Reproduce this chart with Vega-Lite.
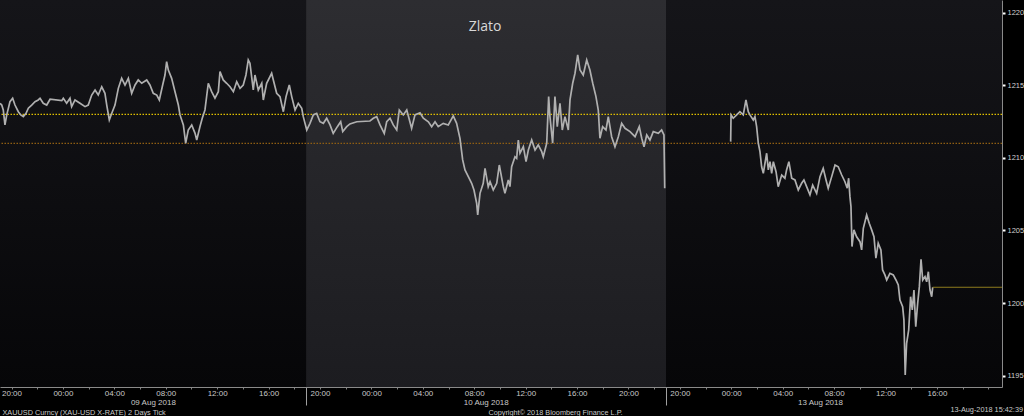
{
  "$schema": "https://vega.github.io/schema/vega-lite/v6.json",
  "width": 1002,
  "height": 387,
  "autosize": {"type": "none"},
  "padding": {"left": 0, "top": 0, "right": 22, "bottom": 29},
  "background": "#000000",
  "config": {"view": {"stroke": null}, "font": "Liberation Sans"},
  "title": {"text": "13-Aug-2018 15:42:39", "orient": "bottom", "anchor": "end", "frame": "group", "offset": -9, "dx": 21, "fontSize": 7.3, "fontWeight": "normal", "color": "#c8c8c8", "font": "Liberation Sans"},
  "resolve": {"scale": {"x": "shared"}, "axis": {"x": "independent"}},
  "datasets": {
    "bands": [
      {"kind": "dark", "t0": -0.895, "t1": 22.92},
      {"kind": "light", "t0": 22.92, "t1": 50.92},
      {"kind": "dark", "t0": 50.92, "t1": 77.06}
    ],
    "refs": [
      {"level": "upper", "p": 1213.0},
      {"level": "lower", "p": 1211.0}
    ],
    "last": [
      {"t": 71.67, "t2": 77.06, "p": 1201.09}
    ],
    "notes": [
      {"label": "Zlato", "t": 36.84, "p": 1219.02}
    ],
    "price": [
      {"t": -0.89, "p": 1213.76, "s": 1}, {"t": -0.76, "p": 1213.64, "s": 1}, {"t": -0.64, "p": 1213.30, "s": 1}, {"t": -0.51, "p": 1212.27, "s": 1},
      {"t": -0.37, "p": 1212.96, "s": 1}, {"t": -0.12, "p": 1213.87, "s": 1}, {"t": 0.09, "p": 1214.11, "s": 1}, {"t": 0.27, "p": 1213.64, "s": 1},
      {"t": 0.53, "p": 1213.18, "s": 1}, {"t": 0.72, "p": 1212.96, "s": 1}, {"t": 0.92, "p": 1212.84, "s": 1}, {"t": 1.13, "p": 1213.07, "s": 1},
      {"t": 1.31, "p": 1213.42, "s": 1}, {"t": 1.57, "p": 1213.64, "s": 1}, {"t": 1.83, "p": 1213.87, "s": 1}, {"t": 2.08, "p": 1213.99, "s": 1},
      {"t": 2.22, "p": 1214.11, "s": 1}, {"t": 2.47, "p": 1213.76, "s": 1}, {"t": 2.74, "p": 1213.64, "s": 1}, {"t": 3.00, "p": 1214.04, "s": 1},
      {"t": 3.91, "p": 1213.94, "s": 1}, {"t": 4.03, "p": 1214.11, "s": 1}, {"t": 4.29, "p": 1213.76, "s": 1}, {"t": 4.55, "p": 1214.11, "s": 1},
      {"t": 4.68, "p": 1213.53, "s": 1}, {"t": 4.94, "p": 1213.99, "s": 1}, {"t": 5.33, "p": 1213.76, "s": 1}, {"t": 5.72, "p": 1213.53, "s": 1},
      {"t": 5.97, "p": 1213.64, "s": 1}, {"t": 6.24, "p": 1214.33, "s": 1}, {"t": 6.50, "p": 1214.68, "s": 1}, {"t": 6.75, "p": 1214.33, "s": 1},
      {"t": 7.02, "p": 1214.90, "s": 1}, {"t": 7.27, "p": 1214.45, "s": 1}, {"t": 7.41, "p": 1213.64, "s": 1}, {"t": 7.61, "p": 1212.61, "s": 1},
      {"t": 7.80, "p": 1213.07, "s": 1}, {"t": 8.05, "p": 1213.64, "s": 1}, {"t": 8.31, "p": 1214.79, "s": 1}, {"t": 8.57, "p": 1215.48, "s": 1},
      {"t": 8.83, "p": 1215.02, "s": 1}, {"t": 9.09, "p": 1215.48, "s": 1}, {"t": 9.35, "p": 1214.45, "s": 1}, {"t": 9.61, "p": 1215.02, "s": 1},
      {"t": 9.86, "p": 1215.37, "s": 1}, {"t": 10.13, "p": 1215.14, "s": 1}, {"t": 10.52, "p": 1215.37, "s": 1}, {"t": 10.77, "p": 1215.02, "s": 1},
      {"t": 11.03, "p": 1214.45, "s": 1}, {"t": 11.30, "p": 1214.33, "s": 1}, {"t": 11.50, "p": 1213.99, "s": 1}, {"t": 11.76, "p": 1215.02, "s": 1},
      {"t": 11.94, "p": 1215.71, "s": 1}, {"t": 12.07, "p": 1216.63, "s": 1}, {"t": 12.20, "p": 1216.05, "s": 1}, {"t": 12.46, "p": 1215.48, "s": 1},
      {"t": 12.72, "p": 1214.56, "s": 1}, {"t": 12.98, "p": 1213.64, "s": 1}, {"t": 13.11, "p": 1212.96, "s": 1}, {"t": 13.37, "p": 1212.27, "s": 1},
      {"t": 13.55, "p": 1211.01, "s": 1}, {"t": 13.75, "p": 1211.92, "s": 1}, {"t": 14.02, "p": 1212.27, "s": 1}, {"t": 14.28, "p": 1211.69, "s": 1},
      {"t": 14.41, "p": 1211.23, "s": 1}, {"t": 14.66, "p": 1212.15, "s": 1}, {"t": 14.84, "p": 1212.73, "s": 1}, {"t": 15.05, "p": 1213.30, "s": 1},
      {"t": 15.31, "p": 1215.14, "s": 1}, {"t": 15.57, "p": 1214.56, "s": 1}, {"t": 15.83, "p": 1214.11, "s": 1}, {"t": 16.09, "p": 1214.56, "s": 1},
      {"t": 16.22, "p": 1215.94, "s": 1}, {"t": 16.47, "p": 1215.37, "s": 1}, {"t": 16.74, "p": 1215.14, "s": 1}, {"t": 17.00, "p": 1214.90, "s": 1},
      {"t": 17.26, "p": 1214.56, "s": 1}, {"t": 17.52, "p": 1215.25, "s": 1}, {"t": 17.78, "p": 1214.79, "s": 1}, {"t": 18.03, "p": 1215.02, "s": 1},
      {"t": 18.24, "p": 1215.71, "s": 1}, {"t": 18.42, "p": 1216.74, "s": 1}, {"t": 18.55, "p": 1216.52, "s": 1}, {"t": 18.81, "p": 1214.68, "s": 1},
      {"t": 18.94, "p": 1215.71, "s": 1}, {"t": 19.20, "p": 1214.68, "s": 1}, {"t": 19.47, "p": 1215.14, "s": 1}, {"t": 19.59, "p": 1213.99, "s": 1},
      {"t": 19.85, "p": 1215.14, "s": 1}, {"t": 20.24, "p": 1215.83, "s": 1}, {"t": 20.37, "p": 1215.37, "s": 1}, {"t": 20.63, "p": 1214.45, "s": 1},
      {"t": 20.89, "p": 1214.22, "s": 1}, {"t": 21.15, "p": 1213.18, "s": 1}, {"t": 21.36, "p": 1214.22, "s": 1}, {"t": 21.61, "p": 1215.02, "s": 1},
      {"t": 21.80, "p": 1214.22, "s": 1}, {"t": 22.06, "p": 1213.30, "s": 1}, {"t": 22.31, "p": 1213.76, "s": 1}, {"t": 22.58, "p": 1213.42, "s": 1},
      {"t": 22.70, "p": 1212.84, "s": 1}, {"t": 22.97, "p": 1211.92, "s": 1}, {"t": 23.22, "p": 1212.38, "s": 1}, {"t": 23.48, "p": 1212.96, "s": 1},
      {"t": 23.74, "p": 1213.07, "s": 1}, {"t": 24.00, "p": 1212.49, "s": 1}, {"t": 24.26, "p": 1212.38, "s": 1}, {"t": 24.52, "p": 1212.73, "s": 1},
      {"t": 24.78, "p": 1212.27, "s": 1}, {"t": 25.03, "p": 1211.69, "s": 1}, {"t": 25.35, "p": 1212.15, "s": 1}, {"t": 25.61, "p": 1212.49, "s": 1},
      {"t": 25.77, "p": 1211.81, "s": 1}, {"t": 26.08, "p": 1212.15, "s": 1}, {"t": 26.33, "p": 1212.34, "s": 1}, {"t": 26.86, "p": 1212.49, "s": 1},
      {"t": 27.89, "p": 1212.54, "s": 1}, {"t": 28.15, "p": 1212.73, "s": 1}, {"t": 28.41, "p": 1212.84, "s": 1}, {"t": 28.67, "p": 1212.27, "s": 1},
      {"t": 29.00, "p": 1211.69, "s": 1}, {"t": 29.19, "p": 1212.49, "s": 1}, {"t": 29.45, "p": 1212.73, "s": 1}, {"t": 29.70, "p": 1212.27, "s": 1},
      {"t": 29.97, "p": 1211.92, "s": 1}, {"t": 30.17, "p": 1213.30, "s": 1}, {"t": 30.48, "p": 1212.96, "s": 1}, {"t": 30.75, "p": 1213.30, "s": 1},
      {"t": 31.13, "p": 1212.04, "s": 1}, {"t": 31.39, "p": 1212.96, "s": 1}, {"t": 31.78, "p": 1213.11, "s": 1}, {"t": 32.04, "p": 1212.73, "s": 1},
      {"t": 32.43, "p": 1212.49, "s": 1}, {"t": 32.69, "p": 1212.15, "s": 1}, {"t": 32.95, "p": 1212.49, "s": 1}, {"t": 33.20, "p": 1212.15, "s": 1},
      {"t": 33.59, "p": 1212.38, "s": 1}, {"t": 33.98, "p": 1212.27, "s": 1}, {"t": 34.37, "p": 1212.89, "s": 1}, {"t": 34.63, "p": 1212.38, "s": 1},
      {"t": 34.89, "p": 1211.35, "s": 1}, {"t": 35.10, "p": 1209.86, "s": 1}, {"t": 35.28, "p": 1209.17, "s": 1}, {"t": 35.54, "p": 1208.71, "s": 1},
      {"t": 35.80, "p": 1208.25, "s": 1}, {"t": 35.98, "p": 1207.79, "s": 1}, {"t": 36.19, "p": 1206.87, "s": 1}, {"t": 36.27, "p": 1206.07, "s": 1},
      {"t": 36.45, "p": 1207.56, "s": 1}, {"t": 36.70, "p": 1208.25, "s": 1}, {"t": 36.84, "p": 1209.28, "s": 1}, {"t": 37.09, "p": 1208.02, "s": 1},
      {"t": 37.23, "p": 1208.36, "s": 1}, {"t": 37.48, "p": 1207.79, "s": 1}, {"t": 37.75, "p": 1208.25, "s": 1}, {"t": 37.95, "p": 1209.51, "s": 1},
      {"t": 38.00, "p": 1209.28, "s": 1}, {"t": 38.26, "p": 1208.02, "s": 1}, {"t": 38.39, "p": 1207.56, "s": 1}, {"t": 38.65, "p": 1208.48, "s": 1},
      {"t": 38.78, "p": 1208.02, "s": 1}, {"t": 38.91, "p": 1209.39, "s": 1}, {"t": 39.17, "p": 1210.08, "s": 1}, {"t": 39.30, "p": 1209.97, "s": 1},
      {"t": 39.43, "p": 1211.23, "s": 1}, {"t": 39.56, "p": 1210.32, "s": 1}, {"t": 39.82, "p": 1210.77, "s": 1}, {"t": 40.03, "p": 1209.74, "s": 1},
      {"t": 40.21, "p": 1210.54, "s": 1}, {"t": 40.47, "p": 1211.23, "s": 1}, {"t": 40.73, "p": 1210.54, "s": 1}, {"t": 40.98, "p": 1210.89, "s": 1},
      {"t": 41.25, "p": 1210.43, "s": 1}, {"t": 41.37, "p": 1210.08, "s": 1}, {"t": 41.64, "p": 1211.01, "s": 1}, {"t": 41.79, "p": 1214.22, "s": 1},
      {"t": 41.89, "p": 1212.84, "s": 1}, {"t": 42.10, "p": 1211.01, "s": 1}, {"t": 42.28, "p": 1214.22, "s": 1}, {"t": 42.46, "p": 1212.15, "s": 1},
      {"t": 42.67, "p": 1213.76, "s": 1}, {"t": 42.85, "p": 1211.92, "s": 1}, {"t": 43.06, "p": 1212.84, "s": 1}, {"t": 43.32, "p": 1211.92, "s": 1},
      {"t": 43.45, "p": 1213.99, "s": 1}, {"t": 43.66, "p": 1215.14, "s": 1}, {"t": 43.84, "p": 1215.83, "s": 1}, {"t": 44.05, "p": 1217.09, "s": 1},
      {"t": 44.23, "p": 1216.05, "s": 1}, {"t": 44.48, "p": 1215.71, "s": 1}, {"t": 44.75, "p": 1216.74, "s": 1}, {"t": 45.00, "p": 1216.05, "s": 1},
      {"t": 45.22, "p": 1215.14, "s": 1}, {"t": 45.47, "p": 1214.22, "s": 1}, {"t": 45.65, "p": 1213.30, "s": 1}, {"t": 45.78, "p": 1211.35, "s": 1},
      {"t": 45.99, "p": 1212.15, "s": 1}, {"t": 46.25, "p": 1211.92, "s": 1}, {"t": 46.43, "p": 1212.84, "s": 1}, {"t": 46.69, "p": 1211.46, "s": 1},
      {"t": 46.95, "p": 1210.77, "s": 1}, {"t": 47.21, "p": 1211.46, "s": 1}, {"t": 47.47, "p": 1212.38, "s": 1}, {"t": 47.73, "p": 1212.04, "s": 1},
      {"t": 48.12, "p": 1211.81, "s": 1}, {"t": 48.51, "p": 1211.46, "s": 1}, {"t": 48.84, "p": 1212.15, "s": 1}, {"t": 49.03, "p": 1211.35, "s": 1},
      {"t": 49.21, "p": 1210.77, "s": 1}, {"t": 49.42, "p": 1211.58, "s": 1}, {"t": 49.67, "p": 1211.23, "s": 1}, {"t": 49.93, "p": 1211.81, "s": 1},
      {"t": 50.32, "p": 1211.69, "s": 1}, {"t": 50.58, "p": 1211.92, "s": 1}, {"t": 50.76, "p": 1211.58, "s": 1}, {"t": 50.82, "p": 1207.91, "s": 1},
      {"t": 55.95, "p": 1211.12, "s": 2}, {"t": 55.98, "p": 1212.96, "s": 2}, {"t": 56.15, "p": 1212.73, "s": 2}, {"t": 56.42, "p": 1212.96, "s": 2},
      {"t": 56.67, "p": 1213.18, "s": 2}, {"t": 56.93, "p": 1212.96, "s": 2}, {"t": 57.14, "p": 1213.99, "s": 2}, {"t": 57.32, "p": 1213.18, "s": 2},
      {"t": 57.45, "p": 1212.96, "s": 2}, {"t": 57.71, "p": 1212.61, "s": 2}, {"t": 57.84, "p": 1212.84, "s": 2}, {"t": 57.97, "p": 1212.15, "s": 2},
      {"t": 58.10, "p": 1211.01, "s": 2}, {"t": 58.23, "p": 1210.43, "s": 2}, {"t": 58.36, "p": 1209.39, "s": 2}, {"t": 58.49, "p": 1208.94, "s": 2},
      {"t": 58.62, "p": 1209.63, "s": 2}, {"t": 58.75, "p": 1210.32, "s": 2}, {"t": 58.88, "p": 1209.17, "s": 2}, {"t": 59.01, "p": 1209.74, "s": 2},
      {"t": 59.14, "p": 1208.94, "s": 2}, {"t": 59.27, "p": 1209.74, "s": 2}, {"t": 59.48, "p": 1209.05, "s": 2}, {"t": 59.65, "p": 1208.02, "s": 2},
      {"t": 59.92, "p": 1208.82, "s": 2}, {"t": 60.17, "p": 1208.60, "s": 2}, {"t": 60.30, "p": 1209.17, "s": 2}, {"t": 60.48, "p": 1209.74, "s": 2},
      {"t": 60.70, "p": 1208.60, "s": 2}, {"t": 60.95, "p": 1208.48, "s": 2}, {"t": 61.21, "p": 1207.79, "s": 2}, {"t": 61.47, "p": 1208.25, "s": 2},
      {"t": 61.65, "p": 1208.48, "s": 2}, {"t": 61.86, "p": 1208.02, "s": 2}, {"t": 62.12, "p": 1207.45, "s": 2}, {"t": 62.33, "p": 1208.13, "s": 2},
      {"t": 62.64, "p": 1207.56, "s": 2}, {"t": 62.90, "p": 1208.71, "s": 2}, {"t": 63.15, "p": 1209.28, "s": 2}, {"t": 63.37, "p": 1208.48, "s": 2},
      {"t": 63.54, "p": 1207.91, "s": 2}, {"t": 63.81, "p": 1208.71, "s": 2}, {"t": 64.07, "p": 1209.51, "s": 2}, {"t": 64.32, "p": 1209.39, "s": 2},
      {"t": 64.59, "p": 1208.82, "s": 2}, {"t": 64.84, "p": 1208.36, "s": 2}, {"t": 65.02, "p": 1207.91, "s": 2}, {"t": 65.13, "p": 1208.60, "s": 2},
      {"t": 65.23, "p": 1207.33, "s": 2}, {"t": 65.31, "p": 1206.64, "s": 2}, {"t": 65.39, "p": 1203.89, "s": 2}, {"t": 65.54, "p": 1205.04, "s": 2},
      {"t": 65.75, "p": 1204.57, "s": 2}, {"t": 66.01, "p": 1204.23, "s": 2}, {"t": 66.14, "p": 1203.66, "s": 2}, {"t": 66.27, "p": 1205.15, "s": 2},
      {"t": 66.53, "p": 1206.07, "s": 2}, {"t": 66.73, "p": 1205.50, "s": 2}, {"t": 66.92, "p": 1205.04, "s": 2}, {"t": 67.10, "p": 1204.57, "s": 2},
      {"t": 67.25, "p": 1203.09, "s": 2}, {"t": 67.43, "p": 1204.12, "s": 2}, {"t": 67.64, "p": 1203.66, "s": 2}, {"t": 67.77, "p": 1202.28, "s": 2},
      {"t": 67.95, "p": 1201.94, "s": 2}, {"t": 68.09, "p": 1201.59, "s": 2}, {"t": 68.34, "p": 1202.05, "s": 2}, {"t": 68.60, "p": 1201.94, "s": 2},
      {"t": 68.81, "p": 1201.59, "s": 2}, {"t": 68.99, "p": 1201.25, "s": 2}, {"t": 69.12, "p": 1200.21, "s": 2}, {"t": 69.33, "p": 1199.75, "s": 2},
      {"t": 69.43, "p": 1198.84, "s": 2}, {"t": 69.53, "p": 1195.05, "s": 2}, {"t": 69.64, "p": 1197.23, "s": 2}, {"t": 69.80, "p": 1198.15, "s": 2},
      {"t": 69.95, "p": 1200.44, "s": 2}, {"t": 70.08, "p": 1199.53, "s": 2}, {"t": 70.21, "p": 1200.90, "s": 2}, {"t": 70.35, "p": 1198.38, "s": 2},
      {"t": 70.50, "p": 1199.99, "s": 2}, {"t": 70.63, "p": 1201.13, "s": 2}, {"t": 70.76, "p": 1203.02, "s": 2}, {"t": 70.89, "p": 1201.59, "s": 2},
      {"t": 71.07, "p": 1201.82, "s": 2}, {"t": 71.20, "p": 1201.47, "s": 2}, {"t": 71.33, "p": 1202.16, "s": 2}, {"t": 71.46, "p": 1200.90, "s": 2},
      {"t": 71.59, "p": 1200.44, "s": 2}, {"t": 71.67, "p": 1201.09, "s": 2}
    ]
  },
  "layer": [
    {
      "data": {"name": "bands"},
      "transform": [{"filter": "datum.kind == 'dark'"}],
      "mark": {"type": "rect", "fill": {"gradient": "linear", "x1": 0, "y1": 0, "x2": 0, "y2": 1, "stops": [{"offset": 0, "color": "#151519"}, {"offset": 1, "color": "#060608"}]}},
      "encoding": {
        "x": {
          "field": "t0", "type": "quantitative",
          "scale": {"domain": [-0.895, 77.06], "nice": false, "zero": false},
          "axis": {
            "orient": "bottom",
            "values": [0, 2, 4, 6, 8, 10, 12, 14, 16, 18, 20, 22, 22.92, 24, 26, 28, 30, 32, 34, 36, 38, 40, 42, 44, 46, 48, 50, 50.92, 52, 54, 56, 58, 60, 62, 64, 66, 68, 70, 72, 74, 76],
            "labelExpr": "(datum.value == 22.92 || datum.value == 50.92) ? '' : (datum.value % 4 != 0 || datum.value > 74) ? '' : (((datum.value < 51 ? (20 + datum.value) % 24 : (datum.value + 16) % 24) < 10 ? '0' : '') + (datum.value < 51 ? (20 + datum.value) % 24 : (datum.value + 16) % 24) + ':00')",
            "labelOverlap": false,
            "labelFlush": false,
            "labelFont": "Liberation Sans",
            "labelFontSize": 8,
            "labelColor": "#c8c8c8",
            "labelPadding": 0.5,
            "labelBaseline": "top",
            "tickSize": {"condition": {"test": "datum.value == 22.92 || datum.value == 50.92", "value": 18}, "value": 2},
            "tickColor": {"condition": {"test": "datum.value == 22.92 || datum.value == 50.92", "value": "#a0a0a0"}, "value": "#808080"},
            "domainColor": "#8a8a8a",
            "grid": false,
            "title": "XAUUSD Curncy (XAU-USD X-RATE) 2 Days  Tick",
            "titleAnchor": "start",
            "titleAlign": "left",
            "titleX": 2,
            "titleY": 21,
            "titleBaseline": "top",
            "titleFont": "Liberation Sans",
            "titleFontSize": 7.3,
            "titleFontWeight": "normal",
            "titleColor": "#c8c8c8"
          }
        },
        "x2": {"field": "t1"}
      }
    },
    {
      "data": {"name": "bands"},
      "transform": [{"filter": "datum.kind == 'light'"}],
      "mark": {"type": "rect", "fill": {"gradient": "linear", "x1": 0, "y1": 0, "x2": 0, "y2": 1, "stops": [{"offset": 0, "color": "#2d2d31"}, {"offset": 1, "color": "#1c1c20"}]}},
      "encoding": {
        "x": {
          "field": "t0", "type": "quantitative",
          "scale": {"domain": [-0.895, 77.06], "nice": false, "zero": false},
          "axis": {
            "orient": "bottom",
            "values": [11, 36.9, 62.9],
            "labelExpr": "datum.value < 20 ? '09 Aug 2018' : datum.value < 50 ? '10 Aug 2018' : '13 Aug 2018'",
            "labelOverlap": false,
            "labelFlush": false,
            "labelFont": "Liberation Sans",
            "labelFontSize": 8,
            "labelColor": "#c8c8c8",
            "labelPadding": 11.5,
            "labelBaseline": "top",
            "ticks": false,
            "tickSize": 0,
            "domain": false,
            "grid": false,
            "title": null
          }
        },
        "x2": {"field": "t1"}
      }
    },
    {
      "data": {"name": "refs"},
      "mark": {"type": "rule", "strokeDash": [1.5, 1.5], "strokeWidth": 1.2},
      "encoding": {
        "y": {"field": "p", "type": "quantitative", "scale": {"domain": [1194.22, 1220.875], "nice": false, "zero": false}},
        "color": {"field": "level", "type": "nominal", "scale": {"domain": ["upper", "lower"], "range": ["#e0c000", "#8f5e12"]}, "legend": null}
      }
    },
    {
      "data": {"name": "price"},
      "mark": {"type": "line", "stroke": "#b0b0b0", "strokeWidth": 1.7},
      "encoding": {
        "x": {"field": "t", "type": "quantitative", "scale": {"domain": [-0.895, 77.06], "nice": false, "zero": false}, "axis": null},
        "y": {
          "field": "p", "type": "quantitative",
          "scale": {"domain": [1194.22, 1220.875], "nice": false, "zero": false},
          "axis": {
            "orient": "right",
            "values": [1195, 1197.5, 1200, 1202.5, 1205, 1207.5, 1210, 1212.5, 1215, 1217.5, 1220],
            "labelExpr": "datum.value % 5 == 0 ? datum.value : ''",
            "labelFont": "Liberation Sans",
            "labelFontSize": 7.5,
            "labelColor": "#d0d0d0",
            "labelPadding": 2,
            "tickSize": 3,
            "tickColor": {"condition": {"test": "datum.value % 5 == 0", "value": "#ffffff"}, "value": "#8a8a8a"},
            "tickWidth": {"condition": {"test": "datum.value % 5 == 0", "value": 2}, "value": 1},
            "domainColor": "#8a8a8a",
            "grid": false,
            "title": "Copyright© 2018 Bloomberg Finance L.P.",
            "titleAngle": 0,
            "titleX": -447,
            "titleY": 408,
            "titleAlign": "center",
            "titleBaseline": "top",
            "titleFont": "Liberation Sans",
            "titleFontSize": 7.3,
            "titleFontWeight": "normal",
            "titleColor": "#c8c8c8"
          }
        },
        "detail": {"field": "s", "type": "nominal"}
      }
    },
    {
      "data": {"name": "last"},
      "mark": {"type": "rule", "stroke": "#8f7c1e", "strokeWidth": 1},
      "encoding": {
        "x": {"field": "t", "type": "quantitative", "scale": {"domain": [-0.895, 77.06], "nice": false, "zero": false}, "axis": null},
        "x2": {"field": "t2"},
        "y": {"field": "p", "type": "quantitative", "scale": {"domain": [1194.22, 1220.875], "nice": false, "zero": false}}
      }
    },
    {
      "data": {"name": "notes"},
      "mark": {"type": "text", "font": "Open Sans", "fontSize": 14, "color": "#d8d8d8", "align": "center", "baseline": "middle"},
      "encoding": {
        "x": {"field": "t", "type": "quantitative", "scale": {"domain": [-0.895, 77.06], "nice": false, "zero": false}, "axis": null},
        "y": {"field": "p", "type": "quantitative", "scale": {"domain": [1194.22, 1220.875], "nice": false, "zero": false}},
        "text": {"field": "label"}
      }
    }
  ]
}
